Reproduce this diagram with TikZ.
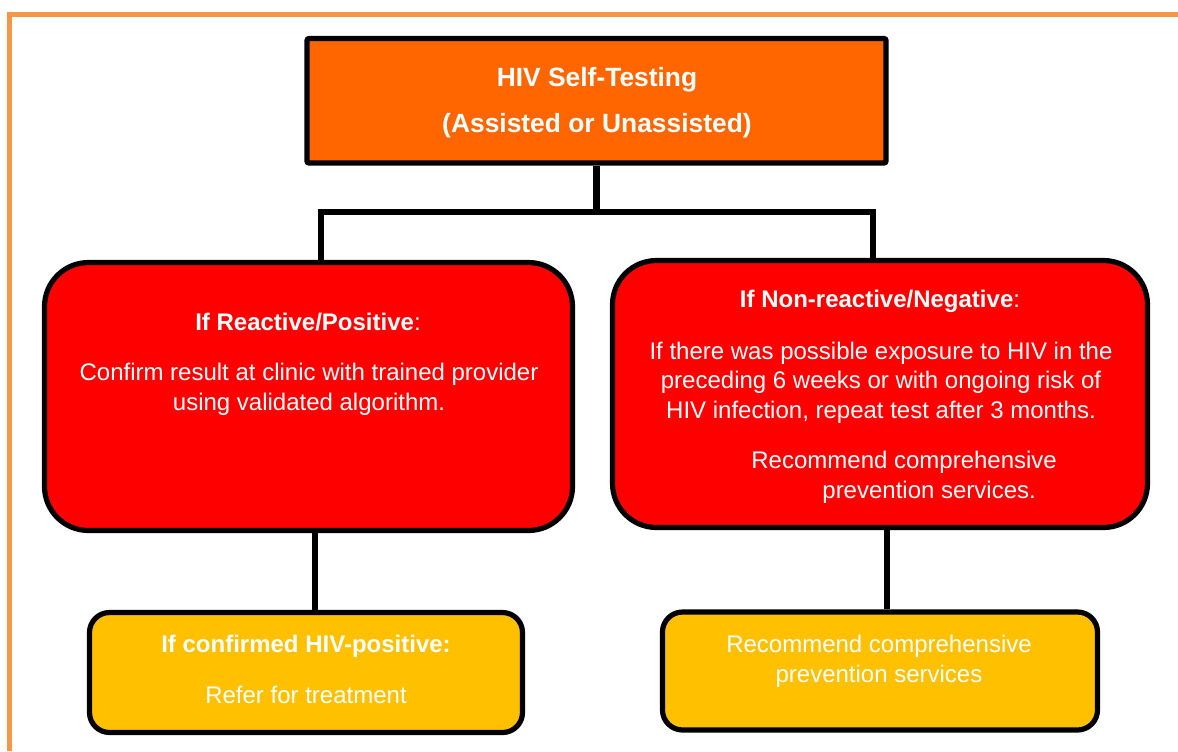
\documentclass[tikz,border=0pt]{standalone}
\usepackage{fontspec}
\setmainfont{Liberation Sans}
\usetikzlibrary{calc}
\definecolor{frameorange}{HTML}{F79646}
\definecolor{toporange}{HTML}{FF6600}
\definecolor{boxred}{HTML}{FF0000}
\definecolor{boxyellow}{HTML}{FFC000}
\tikzset{
    box/.style={draw=black,line width=2.6pt,inner sep=0pt},
    orangebox/.style={box,fill=toporange,rounded corners=1pt},
    redbox/.style={box,fill=boxred,rounded corners=22pt},
    yellowbox/.style={box,fill=boxyellow,rounded corners=10pt},
    txt/.style={text=white,inner sep=0pt,align=center,font=\fontsize{12}{14.8}\selectfont},
    link/.style={line width=3.2pt}
}

\begin{document}
\begin{tikzpicture}[x=0.5pt,y=-0.5pt]
	\useasboundingbox (0,0) rectangle (1178,751);
	\draw[frameorange,line width=2.5pt] (9.5,751) -- (9.5,14) -- (1178,14);

	% boxes
	\node[orangebox,minimum width=289.5pt,minimum height=62.25pt] (top) at (596.5,100.75) {};
	\node[redbox,minimum width=264pt,minimum height=134pt] (pos) at (308.5,396.5) {};
	\node[redbox,minimum width=267.5pt,minimum height=133.5pt] (neg) at (880,394) {};
	\node[yellowbox,minimum width=216.5pt,minimum height=60pt] (refer) at (306,672.5) {};
	\node[yellowbox,minimum width=217.5pt,minimum height=59pt] (prev) at (880,671) {};

	% texts
	\node[txt,font=\fontsize{13.2}{15}\selectfont\bfseries] (title1) at (597,80) {HIV Self-Testing};
	\node[txt,font=\fontsize{13.2}{15}\selectfont\bfseries] (title2) at (597,126) {(Assisted or Unassisted)};
	\node[txt] (poshead) at (308,322) {\textbf{If Reactive/Positive}:};
	\node[txt] (postext) at (309,389) {Confirm result at clinic with trained provider\\using validated algorithm.};
	\node[txt] (neghead) at (880,301) {\textbf{If Non-reactive/Negative}:};
	\node[txt] (negtext) at (881,382.5) {If there was possible exposure to HIV in the\\preceding 6 weeks or with ongoing risk of\\HIV infection, repeat test after 3 months.};
	\node[txt,anchor=west] (negrec1) at (751,462) {Recommend comprehensive};
	\node[txt,anchor=west] (negrec2) at (822,492) {prevention services.};
	\node[txt,font=\fontsize{12}{14.8}\selectfont\bfseries] (referhead) at (306,646) {If confirmed HIV-positive:};
	\node[txt] (refertext) at (306,695) {Refer for treatment};
	\node[txt] (prevtext) at (879,661.5) {Recommend comprehensive\\prevention services};

	% connectors
	\coordinate (barL) at (321,212);
	\coordinate (barR) at (873,212);
	\coordinate (stemL) at (315,0);
	\coordinate (stemR) at (887,0);
	\draw[link] (top.south) -- (top.south |- barL);
	\draw[link] (barL |- pos.north) -- (barL) -- (barR) -- (barR |- neg.north);
	\draw[link] (pos.south -| stemL) -- (refer.north -| stemL);
	\draw[link] (neg.south -| stemR) -- (prev.north -| stemR);
\end{tikzpicture}
\end{document}
